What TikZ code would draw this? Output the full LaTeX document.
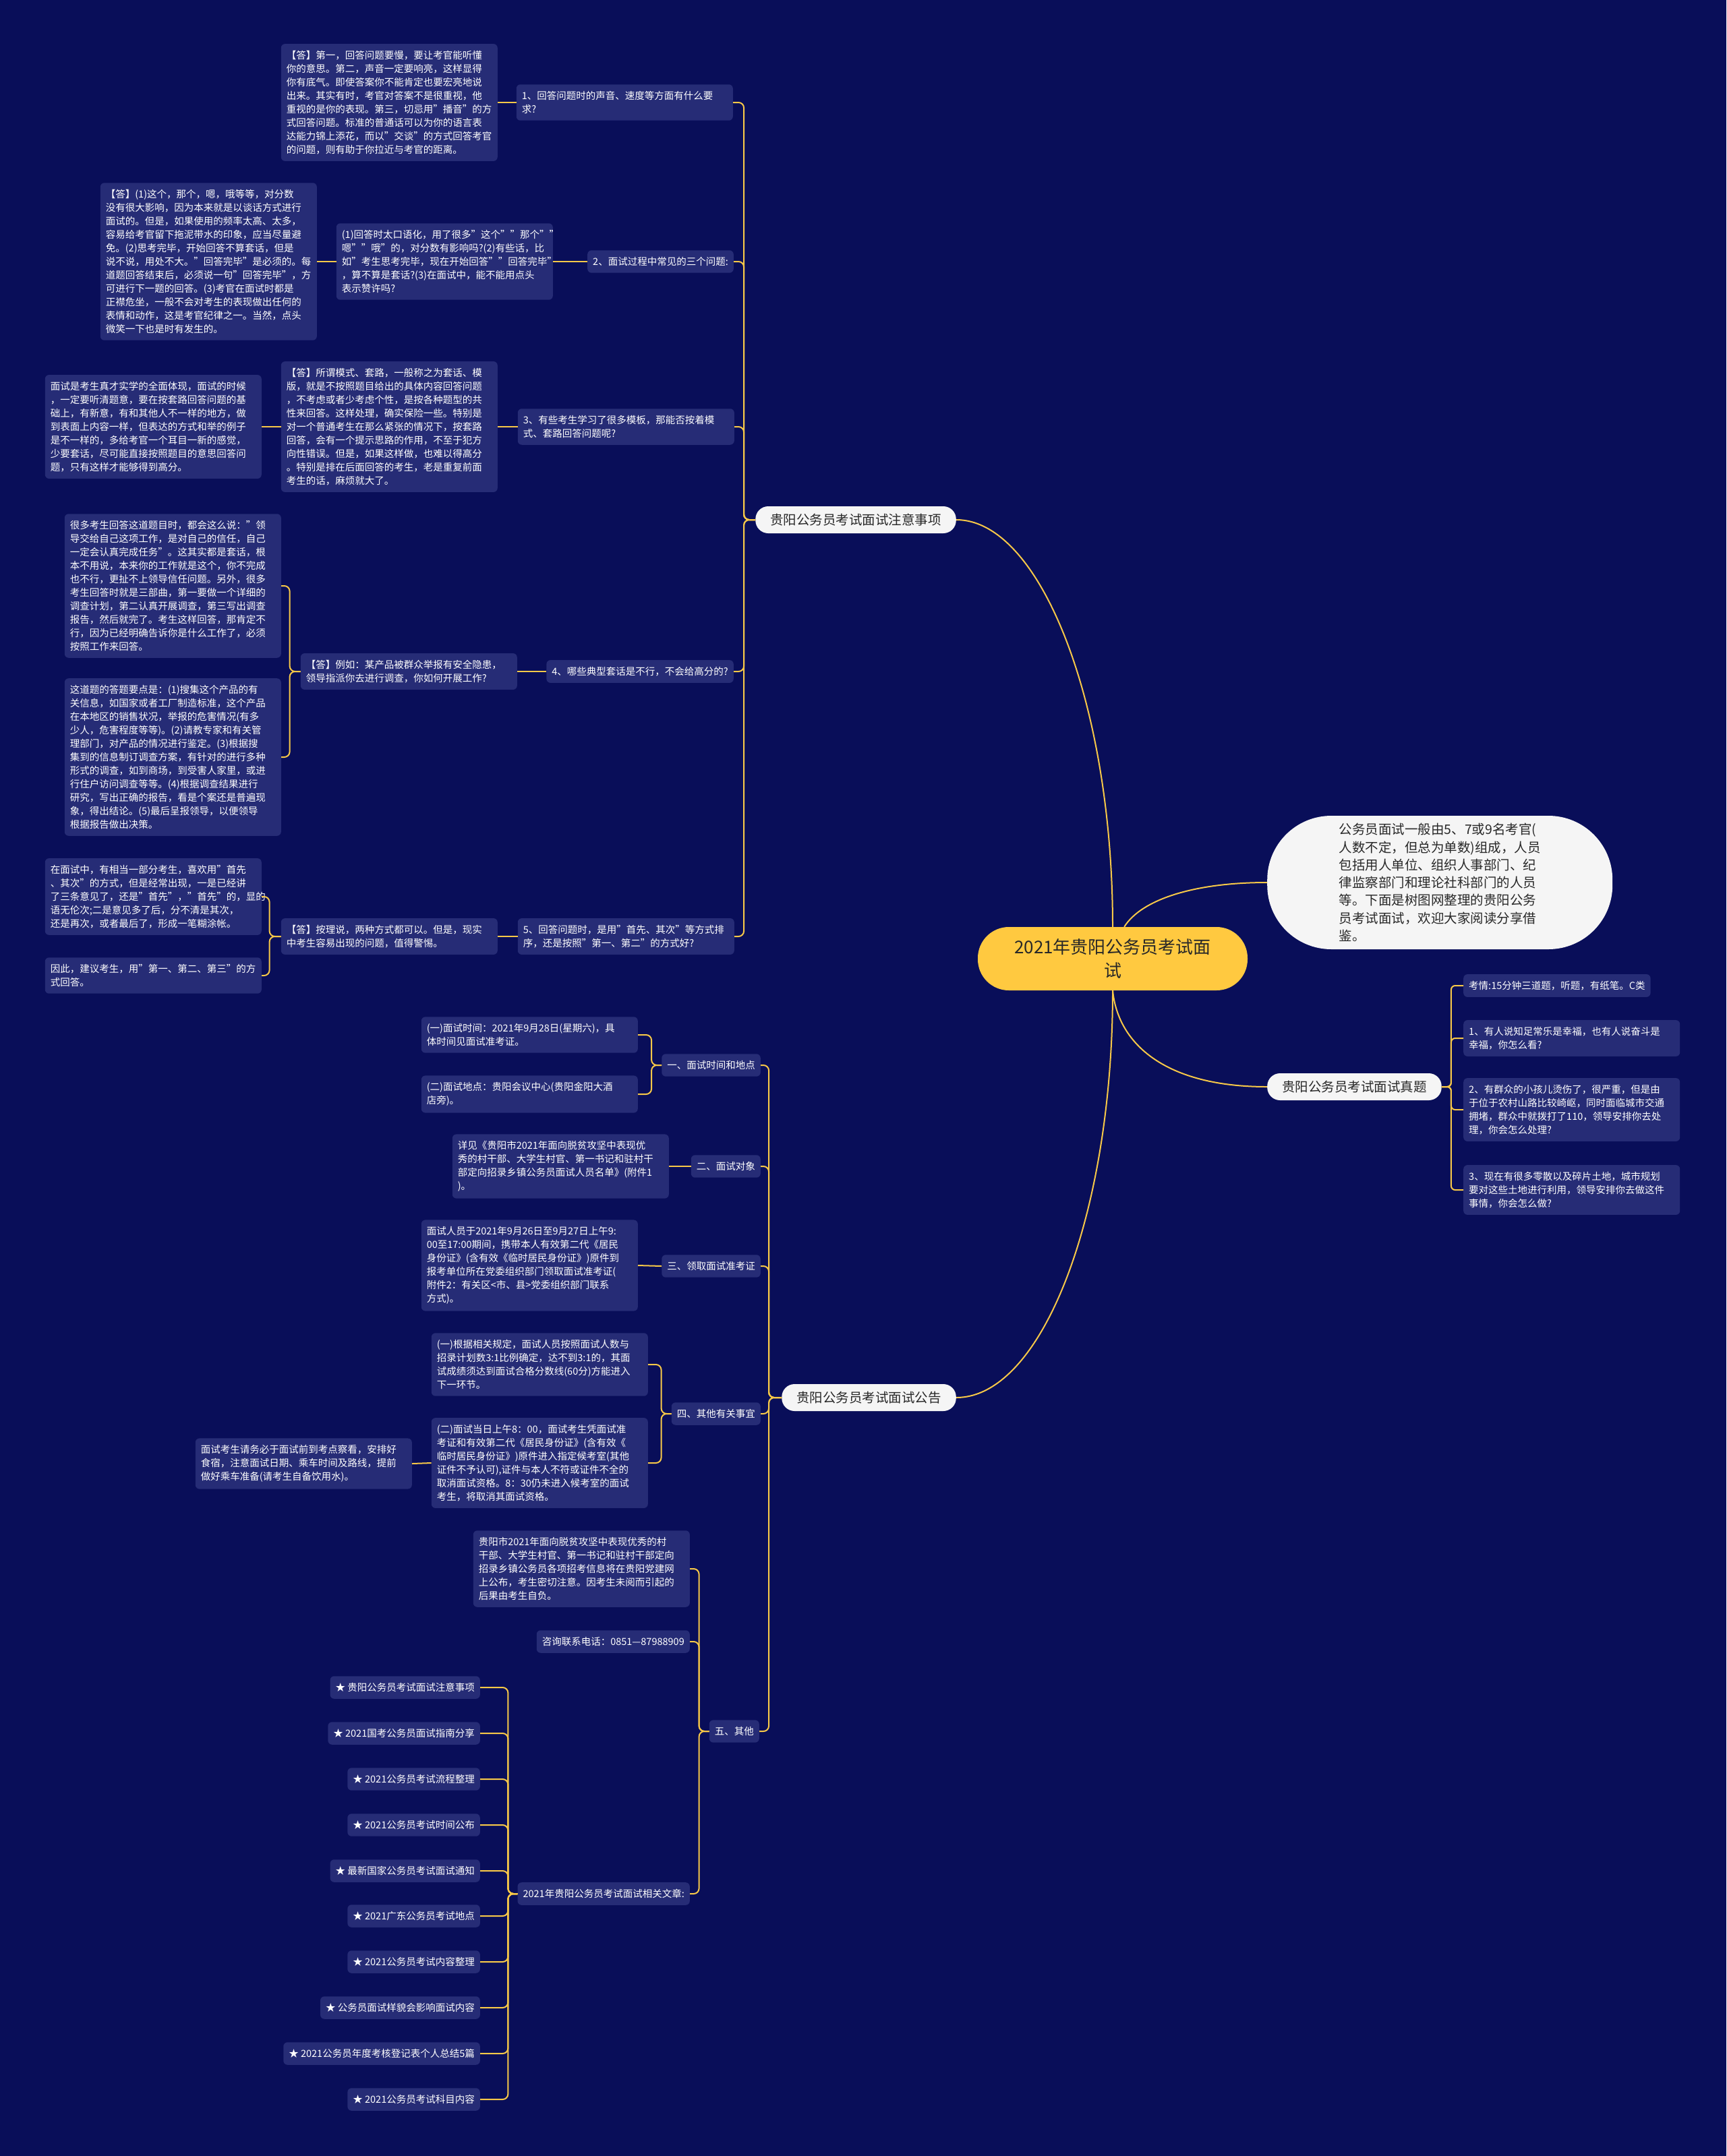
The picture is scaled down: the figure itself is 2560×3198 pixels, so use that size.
\documentclass[tikz,border=0pt]{standalone}
\usepackage{fontspec}
\setmainfont{Noto Sans CJK SC}
\usepackage{tikz}
\definecolor{navy}{RGB}{9,14,89}
\definecolor{leafblue}{RGB}{38,44,118}
\definecolor{linkgold}{RGB}{247,200,72}
\definecolor{rootgold}{RGB}{255,201,64}
\definecolor{pillwhite}{RGB}{245,245,245}
\definecolor{inkgrey}{RGB}{40,40,40}

\begin{document}
\begin{tikzpicture}[x=1pt,y=-1pt,
  leaf/.style={fill=leafblue,text=white,rounded corners=6pt,inner xsep=8pt,inner ysep=10pt,align=left,font=\fontsize{14.5}{20}\selectfont},
  leafw/.style={leaf,text width=305pt},
  pill/.style={fill=pillwhite,text=inkgrey,rounded corners=19pt,inner xsep=22pt,inner ysep=10pt,minimum height=40pt,font=\fontsize{19.5}{26}\selectfont},
  central/.style={fill=rootgold,text=inkgrey,rounded corners=46pt,minimum width=400pt,minimum height=94pt,align=center,font=\fontsize{26}{35}\selectfont},
  link/.style={draw=linkgold,line width=2pt},
  forklink/.style={link,rounded corners=8pt}]
\useasboundingbox (0,0) rectangle (2560,3198);
\fill[navy] (0,0) rectangle (2560,3198);

\node[central] (root) at (1650,1422) {2021年贵阳公务员考试面\\试};
\node[pill,anchor=east] (zy) at (1418,771) {贵阳公务员考试面试注意事项};
\node[pill,anchor=west] (zt) at (1879,1612) {贵阳公务员考试面试真题};
\node[pill,anchor=east] (gg) at (1418,2073) {贵阳公务员考试面试公告};
\node[pill,anchor=west,rounded corners=95pt,minimum width=512pt,minimum height=198pt,align=left,font=\fontsize{19.5}{26.3}\selectfont] (intro) at (1879,1309)
  {公务员面试一般由5、7或9名考官(\\人数不定，但总为单数)组成，人员\\包括用人单位、组织人事部门、纪\\律监察部门和理论社科部门的人员\\等。下面是树图网整理的贵阳公务\\员考试面试，欢迎大家阅读分享借\\鉴。};

\draw[link] (root.north) .. controls +(0,-330) and +(125,0) .. (zy.east);
\draw[link] (root.south) .. controls +(0,330) and +(128,0) .. (gg.east);
\draw[link] (root.70) .. controls +(25,-40) and +(-110,0) .. (intro.west);
\draw[link] (root.south) .. controls +(8,80) and +(-150,0) .. (zt.west);

\node[leafw,anchor=east] (q1) at (1087,152) {1、回答问题时的声音、速度等方面有什么要\\求?};
\node[leaf,anchor=east] (q2) at (1088,388) {2、面试过程中常见的三个问题:};
\node[leafw,anchor=east] (q3) at (1089,633) {3、有些考生学习了很多模板，那能否按着模\\式、套路回答问题呢?};
\node[leaf,anchor=east] (q4) at (1088,996) {4、哪些典型套话是不行，不会给高分的?};
\node[leafw,anchor=east] (q5) at (1089,1389) {5、回答问题时，是用"首先、其次"等方式排\\序，还是按照"第一、第二"的方式好?};

\node[leafw,anchor=east] (a1) at (738,152) {【答】第一，回答问题要慢，要让考官能听懂\\你的意思。第二，声音一定要响亮，这样显得\\你有底气。即使答案你不能肯定也要宏亮地说\\出来。其实有时，考官对答案不是很重视，他\\重视的是你的表现。第三，切忌用"播音"的方\\式回答问题。标准的普通话可以为你的语言表\\达能力锦上添花，而以"交谈"的方式回答考官\\的问题，则有助于你拉近与考官的距离。};
\node[leafw,anchor=east] (q2d) at (820,388) {(1)回答时太口语化，用了很多"这个""那个""\\嗯""哦"的，对分数有影响吗?(2)有些话，比\\如"考生思考完毕，现在开始回答""回答完毕"\\，算不算是套话?(3)在面试中，能不能用点头\\表示赞许吗?};
\node[leafw,anchor=east] (a2) at (470,388) {【答】(1)这个，那个，嗯，哦等等，对分数\\没有很大影响，因为本来就是以谈话方式进行\\面试的。但是，如果使用的频率太高、太多，\\容易给考官留下拖泥带水的印象，应当尽量避\\免。(2)思考完毕，开始回答不算套话，但是\\说不说，用处不大。"回答完毕"是必须的。每\\道题回答结束后，必须说一句"回答完毕"，方\\可进行下一题的回答。(3)考官在面试时都是\\正襟危坐，一般不会对考生的表现做出任何的\\表情和动作，这是考官纪律之一。当然，点头\\微笑一下也是时有发生的。};
\node[leafw,anchor=east] (a3) at (738,633) {【答】所谓模式、套路，一般称之为套话、模\\版，就是不按照题目给出的具体内容回答问题\\，不考虑或者少考虑个性，是按各种题型的共\\性来回答。这样处理，确实保险一些。特别是\\对一个普通考生在那么紧张的情况下，按套路\\回答，会有一个提示思路的作用，不至于犯方\\向性错误。但是，如果这样做，也难以得高分\\。特别是排在后面回答的考生，老是重复前面\\考生的话，麻烦就大了。};
\node[leafw,anchor=east] (a3l) at (388,633) {面试是考生真才实学的全面体现，面试的时候\\，一定要听清题意，要在按套路回答问题的基\\础上，有新意，有和其他人不一样的地方，做\\到表面上内容一样，但表达的方式和举的例子\\是不一样的，多给考官一个耳目一新的感觉，\\少要套话，尽可能直接按照题目的意思回答问\\题，只有这样才能够得到高分。};
\node[leafw,anchor=east] (a4) at (767,996) {【答】例如：某产品被群众举报有安全隐患，\\领导指派你去进行调查，你如何开展工作?};
\node[leafw,anchor=east] (a4a) at (417,869) {很多考生回答这道题目时，都会这么说："领\\导交给自己这项工作，是对自己的信任，自己\\一定会认真完成任务"。这其实都是套话，根\\本不用说，本来你的工作就是这个，你不完成\\也不行，更扯不上领导信任问题。另外，很多\\考生回答时就是三部曲，第一要做一个详细的\\调查计划，第二认真开展调查，第三写出调查\\报告，然后就完了。考生这样回答，那肯定不\\行，因为已经明确告诉你是什么工作了，必须\\按照工作来回答。};
\node[leafw,anchor=east] (a4b) at (417,1123) {这道题的答题要点是：(1)搜集这个产品的有\\关信息，如国家或者工厂制造标准，这个产品\\在本地区的销售状况，举报的危害情况(有多\\少人，危害程度等等)。(2)请教专家和有关管\\理部门，对产品的情况进行鉴定。(3)根据搜\\集到的信息制订调查方案，有针对的进行多种\\形式的调查，如到商场，到受害人家里，或进\\行住户访问调查等等。(4)根据调查结果进行\\研究，写出正确的报告，看是个案还是普遍现\\象，得出结论。(5)最后呈报领导，以便领导\\根据报告做出决策。};
\node[leafw,anchor=east] (a5) at (738,1389) {【答】按理说，两种方式都可以。但是，现实\\中考生容易出现的问题，值得警惕。};
\node[leafw,anchor=east] (a5a) at (388,1330) {在面试中，有相当一部分考生，喜欢用"首先\\、其次"的方式，但是经常出现，一是已经讲\\了三条意见了，还是"首先"，"首先"的，显的\\语无伦次;二是意见多了后，分不清是其次，\\还是再次，或者最后了，形成一笔糊涂帐。};
\node[leafw,anchor=east] (a5b) at (388,1447) {因此，建议考生，用"第一、第二、第三"的方\\式回答。};

\draw[forklink] (zy.west) -- ++(-17,0) |- (q1.east);
\draw[forklink] (zy.west) -- ++(-17,0) |- (q2.east);
\draw[forklink] (zy.west) -- ++(-17,0) |- (q3.east);
\draw[forklink] (zy.west) -- ++(-17,0) |- (q4.east);
\draw[forklink] (zy.west) -- ++(-17,0) |- (q5.east);
\draw[link] (q1.west) -- (a1.east);
\draw[link] (q2.west) -- (q2d.east);
\draw[link] (q2d.west) -- (a2.east);
\draw[link] (q3.west) -- (a3.east);
\draw[link] (a3.west) -- (a3l.east);
\draw[link] (q4.west) -- (a4.east);
\draw[forklink] (a4.west) -- ++(-16,0) |- (a4a.east);
\draw[forklink] (a4.west) -- ++(-16,0) |- (a4b.east);
\draw[link] (q5.west) -- (a5.east);
\draw[forklink] (a5.west) -- ++(-17,0) |- (a5a.east);
\draw[forklink] (a5.west) -- ++(-17,0) |- (a5b.east);

\node[leaf,anchor=west] (r0) at (2170,1462) {考情:15分钟三道题，听题，有纸笔。C类};
\node[leafw,anchor=west] (r1) at (2170,1540) {1、有人说知足常乐是幸福，也有人说奋斗是\\幸福，你怎么看?};
\node[leafw,anchor=west] (r2) at (2170,1646) {2、有群众的小孩儿烫伤了，很严重，但是由\\于位于农村山路比较崎岖，同时面临城市交通\\拥堵，群众中就拨打了110，领导安排你去处\\理，你会怎么处理?};
\node[leafw,anchor=west] (r3) at (2170,1765) {3、现在有很多零散以及碎片土地，城市规划\\要对这些土地进行利用，领导安排你去做这件\\事情，你会怎么做?};
\draw[forklink,rounded corners=6pt] (zt.east) -- ++(14,0) |- (r0.west);
\draw[forklink,rounded corners=6pt] (zt.east) -- ++(14,0) |- (r1.west);
\draw[forklink,rounded corners=6pt] (zt.east) -- ++(14,0) |- (r2.west);
\draw[forklink,rounded corners=6pt] (zt.east) -- ++(14,0) |- (r3.west);

\node[leaf,anchor=east] (s1) at (1128,1580) {一、面试时间和地点};
\node[leaf,anchor=east] (s2) at (1128,1730) {二、面试对象};
\node[leaf,anchor=east] (s3) at (1128,1878) {三、领取面试准考证};
\node[leaf,anchor=east] (s4) at (1128,2097) {四、其他有关事宜};
\node[leaf,anchor=east] (s5) at (1126,2568) {五、其他};
\draw[forklink] (gg.west) -- ++(-19,0) |- (s1.east);
\draw[forklink] (gg.west) -- ++(-19,0) |- (s2.east);
\draw[forklink] (gg.west) -- ++(-19,0) |- (s3.east);
\draw[forklink] (gg.west) -- ++(-19,0) |- (s4.east);
\draw[forklink] (gg.west) -- ++(-19,0) |- (s5.east);

\node[leafw,anchor=east] (s1a) at (946,1535) {(一)面试时间：2021年9月28日(星期六)，具\\体时间见面试准考证。};
\node[leafw,anchor=east] (s1b) at (946,1623) {(二)面试地点：贵阳会议中心(贵阳金阳大酒\\店旁)。};
\node[leafw,anchor=east] (s2a) at (992,1730) {详见《贵阳市2021年面向脱贫攻坚中表现优\\秀的村干部、大学生村官、第一书记和驻村干\\部定向招录乡镇公务员面试人员名单》(附件1\\)。};
\node[leafw,anchor=east] (s3a) at (946,1877) {面试人员于2021年9月26日至9月27日上午9:\\00至17:00期间，携带本人有效第二代《居民\\身份证》(含有效《临时居民身份证》)原件到\\报考单位所在党委组织部门领取面试准考证(\\附件2：有关区<市、县>党委组织部门联系\\方式)。};
\node[leafw,anchor=east] (s4a) at (961,2024) {(一)根据相关规定，面试人员按照面试人数与\\招录计划数3:1比例确定，达不到3:1的，其面\\试成绩须达到面试合格分数线(60分)方能进入\\下一环节。};
\node[leafw,anchor=east] (s4b) at (961,2170) {(二)面试当日上午8：00，面试考生凭面试准\\考证和有效第二代《居民身份证》(含有效《\\临时居民身份证》)原件进入指定候考室(其他\\证件不予认可),证件与本人不符或证件不全的\\取消面试资格。8：30仍未进入候考室的面试\\考生，将取消其面试资格。};
\node[leafw,anchor=east] (s4c) at (611,2171) {面试考生请务必于面试前到考点察看，安排好\\食宿，注意面试日期、乘车时间及路线，提前\\做好乘车准备(请考生自备饮用水)。};
\node[leafw,anchor=east] (s5a) at (1023,2327) {贵阳市2021年面向脱贫攻坚中表现优秀的村\\干部、大学生村官、第一书记和驻村干部定向\\招录乡镇公务员各项招考信息将在贵阳党建网\\上公布，考生密切注意。因考生未阅而引起的\\后果由考生自负。};
\node[leaf,anchor=east] (s5b) at (1023,2435) {咨询联系电话：0851—87988909};
\node[leaf,anchor=east] (s5c) at (1023,2809) {2021年贵阳公务员考试面试相关文章:};

\draw[forklink] (s1.west) -- ++(-15,0) |- (s1a.east);
\draw[forklink] (s1.west) -- ++(-15,0) |- (s1b.east);
\draw[link] (s2.west) -- (s2a.east);
\draw[link] (s3.west) -- (s3a.east);
\draw[forklink] (s4.west) -- ++(-15,0) |- (s4a.east);
\draw[forklink] (s4.west) -- ++(-15,0) |- (s4b.east);
\draw[link] (s4b.west) -- (s4c.east);
\draw[forklink] (s5.west) -- ++(-15,0) |- (s5a.east);
\draw[forklink] (s5.west) -- ++(-15,0) |- (s5b.east);
\draw[forklink] (s5.west) -- ++(-15,0) |- (s5c.east);

\node[leaf,anchor=east] (st1) at (712,2503) {★ 贵阳公务员考试面试注意事项};
\node[leaf,anchor=east] (st2) at (712,2571) {★ 2021国考公务员面试指南分享};
\node[leaf,anchor=east] (st3) at (712,2639) {★ 2021公务员考试流程整理};
\node[leaf,anchor=east] (st4) at (712,2707) {★ 2021公务员考试时间公布};
\node[leaf,anchor=east] (st5) at (712,2775) {★ 最新国家公务员考试面试通知};
\node[leaf,anchor=east] (st6) at (712,2842) {★ 2021广东公务员考试地点};
\node[leaf,anchor=east] (st7) at (712,2910) {★ 2021公务员考试内容整理};
\node[leaf,anchor=east] (st8) at (712,2978) {★ 公务员面试样貌会影响面试内容};
\node[leaf,anchor=east] (st9) at (712,3046) {★ 2021公务员年度考核登记表个人总结5篇};
\node[leaf,anchor=east] (st10) at (712,3114) {★ 2021公务员考试科目内容};
\draw[forklink] (s5c.west) -- ++(-14,0) |- (st1.east);
\draw[forklink] (s5c.west) -- ++(-14,0) |- (st2.east);
\draw[forklink] (s5c.west) -- ++(-14,0) |- (st3.east);
\draw[forklink] (s5c.west) -- ++(-14,0) |- (st4.east);
\draw[forklink] (s5c.west) -- ++(-14,0) |- (st5.east);
\draw[forklink] (s5c.west) -- ++(-14,0) |- (st6.east);
\draw[forklink] (s5c.west) -- ++(-14,0) |- (st7.east);
\draw[forklink] (s5c.west) -- ++(-14,0) |- (st8.east);
\draw[forklink] (s5c.west) -- ++(-14,0) |- (st9.east);
\draw[forklink] (s5c.west) -- ++(-14,0) |- (st10.east);
\end{tikzpicture}
\end{document}
